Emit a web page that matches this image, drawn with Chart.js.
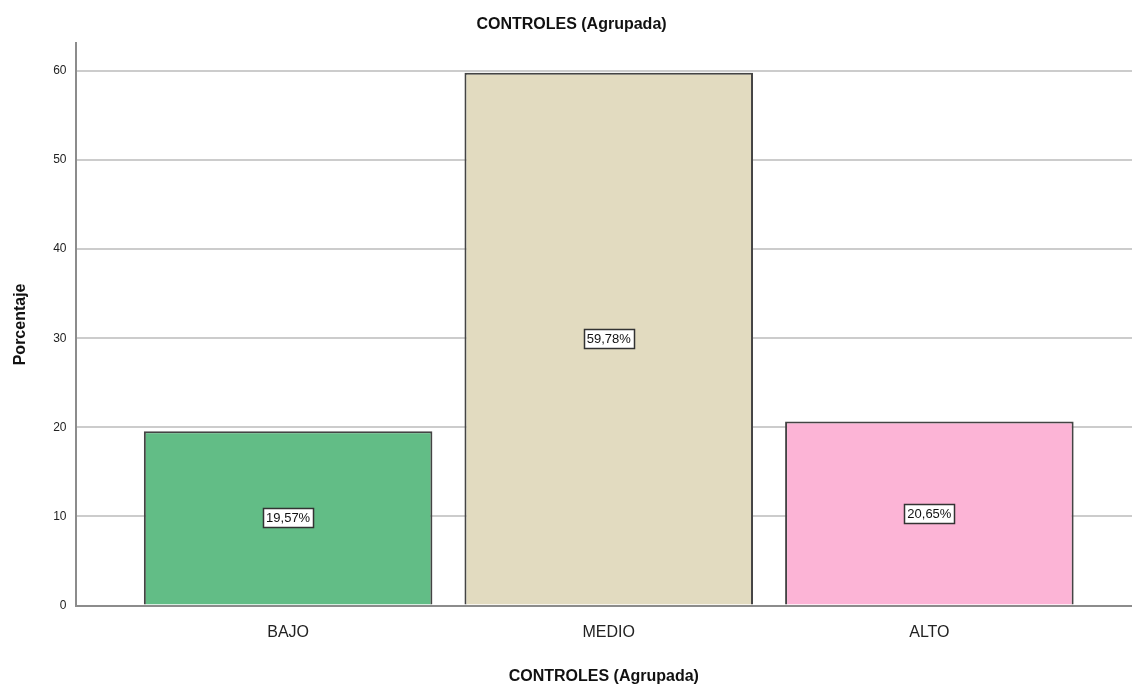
<!DOCTYPE html>
<html>
<head>
<meta charset="utf-8">
<script src="https://cdn.jsdelivr.net/npm/chart.js@4.4.0/dist/chart.umd.min.js"></script>
<style>
  html, body { margin: 0; padding: 0; background: #fff; }
  #wrap { width: 1132px; height: 686px; }
</style>
</head>
<body>
<div id="wrap"><canvas id="chart" width="1132" height="686"></canvas></div>
<script>
// ---------- Data ----------
const categories = ['BAJO', 'MEDIO', 'ALTO'];
const percentages = [19.57, 59.78, 20.65];
const barColors = ['#62bd86', '#e2dbc0', '#fcb4d6'];
const yTicks = [0, 10, 20, 30, 40, 50, 60];

const FONT = '"Liberation Sans", Arial, sans-serif';

// value labels: white box with dark frame at bar middle
const boxLabels = {
  id: 'boxLabels',
  afterDatasetsDraw(chart) {
    const ctx = chart.ctx;
    const meta = chart.getDatasetMeta(0);
    ctx.save();
    ctx.font = '13px ' + FONT;
    ctx.textAlign = 'center';
    ctx.textBaseline = 'middle';
    meta.data.forEach((bar, i) => {
      const txt = percentages[i].toFixed(2).replace('.', ',') + '%';
      const cy = (bar.y + bar.base) / 2;
      const w = Math.round(ctx.measureText(txt).width + 6);
      const h = 19;
      const bx = Math.round(bar.x - w / 2), by = Math.round(cy - h / 2);
      ctx.fillStyle = '#ffffff';
      ctx.fillRect(bx, by, w, h);
      ctx.strokeStyle = '#333333';
      ctx.lineWidth = 1.5;
      ctx.strokeRect(bx + 0.5, by + 0.5, w, h);
      ctx.fillStyle = '#111111';
      ctx.fillText(txt, bar.x, cy + 1);
    });
    ctx.restore();
  }
};

new Chart(document.getElementById('chart').getContext('2d'), {
  type: 'bar',
  data: {
    datasets: [{
      data: percentages.map((v, i) => ({ x: i, y: v })),
      backgroundColor: barColors,
      borderColor: '#444444',
      borderWidth: 2,
      barPercentage: 0.9,
      categoryPercentage: 1.0
    }]
  },
  options: {
    responsive: false,
    animation: false,
    layout: { padding: { left: 11, right: 0, top: 0, bottom: 0 } },
    plugins: {
      legend: { display: false },
      tooltip: { enabled: false },
      title: {
        display: true,
        text: 'CONTROLES (Agrupada)',
        color: '#111',
        font: { family: FONT, size: 16, weight: 'bold' },
        padding: { top: 15, bottom: 9 }
      }
    },
    scales: {
      x: {
        type: 'linear',
        offset: false,
        min: -0.663,
        max: 2.632,
        afterBuildTicks(axis) { axis.ticks = categories.map((_, i) => ({ value: i })); },
        ticks: {
          callback: (v) => categories[v],
          color: '#222',
          font: { family: FONT, size: 16 },
          padding: 17
        },
        grid: { display: false, drawTicks: false },
        border: { color: '#8c8c8c', width: 2 },
        title: {
          display: true,
          text: 'CONTROLES (Agrupada)',
          color: '#111',
          font: { family: FONT, size: 16, weight: 'bold' },
          padding: { top: 8, bottom: 0 }
        }
      },
      y: {
        min: 0,
        max: 63.1,
        afterBuildTicks(axis) { axis.ticks = yTicks.map(v => ({ value: v })); },
        ticks: {
          color: '#222',
          font: { family: FONT, size: 12 },
          padding: 9
        },
        grid: { color: '#cccccc', lineWidth: 2, drawTicks: false },
        border: { color: '#8c8c8c', width: 2 },
        title: {
          display: true,
          text: 'Porcentaje',
          color: '#111',
          font: { family: FONT, size: 16, weight: 'bold' },
          padding: { top: 0, bottom: 14 }
        }
      }
    }
  },
  plugins: [boxLabels]
});
</script>
</body>
</html>
